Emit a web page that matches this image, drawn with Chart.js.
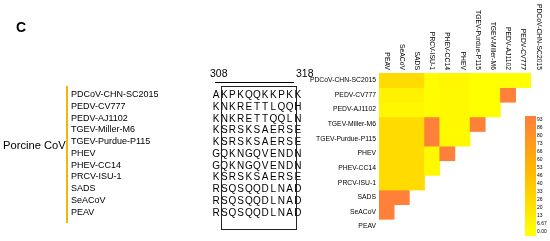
<!DOCTYPE html>
<html>
<head>
<meta charset="utf-8">
<script src="https://cdn.jsdelivr.net/npm/chart.js@4"></script>
<style>
  body { margin: 0; background: #fff; font-family: "Liberation Sans", Arial, sans-serif; color: #000; }
  #page { position: relative; width: 550px; height: 241px; overflow: hidden; }
  .abs { position: absolute; }
  .txt { will-change: transform; }
  #panel { left: 16px; top: 19px; font-size: 14px; font-weight: bold; }
  #group { left: 3px; top: 138px; font-size: 11.2px; line-height: 14px; }
  #groupBar { left: 66px; top: 86px; width: 2px; height: 137px; background: #f2b705; }
  #names { left: 71px; top: 89px; font-size: 9px; }
  #names div, #aln div { height: 11.75px; line-height: 11.75px; white-space: nowrap; }
  #aln { left: 212px; top: 89px; font-size: 10px; }
  #aln span { display: inline-block; width: 8.18px; text-align: center; }
  #box { left: 221px; top: 86px; width: 74px; height: 142px; border: 1px solid #222; }
  #posL { left: 210px; top: 67px; font-size: 10.5px; }
  #posR { left: 296px; top: 67px; font-size: 10.5px; }
  #posLine { left: 215px; top: 81.5px; width: 79px; height: 1.5px; background: #000; }
  #heatWrap { left: 300px; top: 0; width: 250px; height: 241px; }
  #barWrap { left: 518px; top: 106px; width: 32px; height: 135px; }
</style>
</head>
<body>
<div id="page">
  <div class="abs txt" id="panel">C</div>
  <div class="abs txt" id="group">Porcine CoV</div>
  <div class="abs" id="groupBar"></div>
  <div class="abs txt" id="names"></div>
  <div class="abs txt" id="posL">308</div>
  <div class="abs txt" id="posR">318</div>
  <div class="abs" id="posLine"></div>
  <div class="abs txt" id="aln"></div>
  <div class="abs" id="box"></div>
  <div class="abs" id="heatWrap"><canvas id="heat"></canvas></div>
  <div class="abs" id="barWrap"><canvas id="cbar"></canvas></div>
</div>
<script>
// strains, in list order
const strains = ['PDCoV-CHN-SC2015', 'PEDV-CV777', 'PEDV-AJ1102', 'TGEV-Miller-M6', 'TGEV-Purdue-P115',
  'PHEV', 'PHEV-CC14', 'PRCV-ISU-1', 'SADS', 'SeACoV', 'PEAV'];
// residues 308-318
const seqs = ['AKPKQQKKPKK', 'KNKRETTLQQH', 'KNKRETTQQLN', 'KSRSKSAERSE', 'KSRSKSAERSE',
  'GQKNGQVENDN', 'GQKNGQVENDN', 'KSRSKSAERSE', 'RSQSQQDLNAD', 'RSQSQQDLNAD', 'RSQSQQDLNAD'];

// heatmap columns (left to right) and rows (top to bottom)
const cols = ['PEAV', 'SeACoV', 'SADS', 'PRCV-ISU-1', 'PHEV-CC14', 'PHEV', 'TGEV-Purdue-P115',
  'TGEV-Miller-M6', 'PEDV-AJ1102', 'PEDV-CV777', 'PDCoV-CHN-SC2015'];
const rows = strains;
const vals = [
  [26, 26, 26, 3, 6, 6, 0, 0, 0, 0, null],
  [9, 9, 9, 2, 4, 4, 0, 0, 93, null, null],
  [6, 6, 6, 2, 4, 4, 0, 0, null, null, null],
  [26, 26, 26, 93, 4, 4, 93, null, null, null, null],
  [26, 26, 26, 93, 4, 4, null, null, null, null, null],
  [26, 26, 26, 4, 93, null, null, null, null, null, null],
  [26, 26, 26, 4, null, null, null, null, null, null, null],
  [26, 26, 26, null, null, null, null, null, null, null, null],
  [93, 93, null, null, null, null, null, null, null, null, null],
  [93, null, null, null, null, null, null, null, null, null, null],
  [null, null, null, null, null, null, null, null, null, null, null]
];

// colour bar ticks
const cbTicks = [0, 6.67, 13.3, 20, 26.7, 33.3, 40, 46.7, 53.3, 60, 66.7, 73.3, 80, 86.7, 93.3];
const cbLabels = ['0.00', '6.67', '13', '20', '26', '33', '40', '46', '53', '60', '66', '73', '80', '86', '93'];

// left text
const namesEl = document.getElementById('names');
strains.forEach(s => {
  const d = document.createElement('div');
  d.textContent = s;
  namesEl.append(d);
});
const alnEl = document.getElementById('aln');
seqs.forEach(s => {
  const d = document.createElement('div');
  s.split('').forEach(ch => {
    const sp = document.createElement('span');
    sp.textContent = ch;
    d.append(sp);
  });
  alnEl.append(d);
});

// yellow -> orange scale
const stops = [
  [0, [255, 255, 0]],
  [0.3, [255, 216, 0]],
  [0.55, [255, 184, 0]],
  [0.8, [255, 154, 30]],
  [1, [255, 128, 56]]
];
function colorFor(v) {
  if (v == null) return 'rgba(0,0,0,0)';
  const t = Math.max(0, Math.min(1, v / 93.3));
  for (let i = 1; i < stops.length; i++) {
    if (t <= stops[i][0]) {
      const [t0, c0] = stops[i - 1];
      const [t1, c1] = stops[i];
      const f = (t - t0) / (t1 - t0);
      const c = c0.map((a, k) => Math.round(a + (c1[k] - a) * f));
      return `rgb(${c[0]},${c[1]},${c[2]})`;
    }
  }
  return 'rgb(255,128,56)';
}

Chart.defaults.font.family = '"Liberation Sans", Arial, sans-serif';
Chart.defaults.color = '#000';

const n = rows.length;
const heatSets = rows.map((r, i) => ({
  label: r,
  data: vals[i].map(v => (v == null ? null : [n - 1 - i, n - i])),
  backgroundColor: vals[i].map(colorFor),
  borderWidth: 0,
  grouped: false,
  barPercentage: 1,
  categoryPercentage: 1
}));

// column names, rotated, reading downwards
const topLabels = {
  id: 'topLabels',
  afterDraw(chart) {
    const ctx = chart.ctx;
    const xs = chart.scales.x;
    ctx.save();
    ctx.font = '6.8px "Liberation Sans", Arial, sans-serif';
    ctx.fillStyle = '#000';
    ctx.textAlign = 'right';
    ctx.textBaseline = 'middle';
    cols.forEach((c, j) => {
      ctx.save();
      ctx.translate(xs.getPixelForValue(j), chart.chartArea.top - 3);
      ctx.rotate(Math.PI / 2);
      ctx.fillText(c, 0, 0);
      ctx.restore();
    });
    ctx.restore();
  }
};

new Chart(document.getElementById('heat'), {
  type: 'bar',
  data: { labels: cols, datasets: heatSets },
  options: {
    responsive: true,
    maintainAspectRatio: false,
    animation: false,
    layout: { padding: { top: 73, right: 4, bottom: 1, left: 0 } },
    plugins: { legend: { display: false }, tooltip: { enabled: false } },
    scales: {
      x: { display: false },
      y: {
        min: 0,
        max: n,
        position: 'left',
        grid: { display: false, drawTicks: false },
        border: { display: false },
        afterFit: (s) => { s.width = 79; },
        afterBuildTicks: (s) => { s.ticks = rows.map((r, i) => ({ value: n - 0.5 - i })); },
        ticks: {
          autoSkip: false,
          padding: 3,
          font: { size: 6.8 },
          callback: (v) => rows[Math.round(n - 0.5 - v)]
        }
      }
    }
  },
  plugins: [topLabels]
});

new Chart(document.getElementById('cbar'), {
  type: 'bar',
  data: {
    labels: ['scale'],
    datasets: [{
      data: [[-3.33, 96.67]],
      borderWidth: 0,
      barPercentage: 1,
      categoryPercentage: 1,
      backgroundColor: (context) => {
        const chart = context.chart;
        const { ctx, chartArea } = chart;
        if (!chartArea) return colorFor(50);
        const ys = chart.scales.y;
        const g = ctx.createLinearGradient(0, ys.getPixelForValue(0), 0, ys.getPixelForValue(93.3));
        cbTicks.forEach(v => g.addColorStop(v / 93.3, colorFor(v)));
        return g;
      }
    }]
  },
  options: {
    responsive: true,
    maintainAspectRatio: false,
    animation: false,
    layout: { padding: { top: 10, right: 0, bottom: 5, left: 7 } },
    plugins: { legend: { display: false }, tooltip: { enabled: false } },
    scales: {
      x: { display: false },
      y: {
        min: -3.33,
        max: 96.67,
        position: 'right',
        grid: { display: false, drawTicks: false },
        border: { display: false },
        afterFit: (s) => { s.width = 14; },
        afterBuildTicks: (s) => { s.ticks = cbTicks.map(v => ({ value: v })); },
        ticks: {
          autoSkip: false,
          padding: 1,
          font: { size: 5 },
          callback: (v, i) => cbLabels[i]
        }
      }
    }
  }
});
</script>
</body>
</html>
